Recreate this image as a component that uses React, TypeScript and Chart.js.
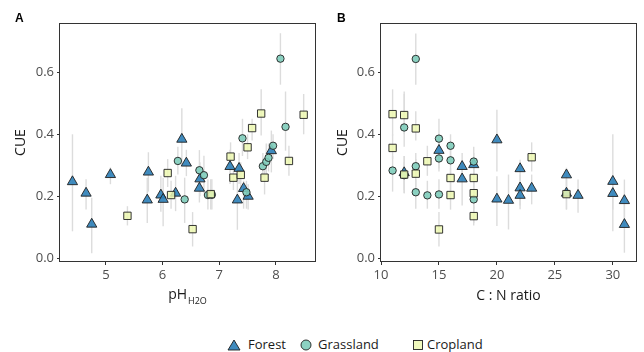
import React, { useEffect, useRef } from 'react';
import { Chart, registerables } from 'chart.js';

Chart.register(...registerables);

const FONT = '"Open Sans", "Noto Sans", sans-serif';

// ---------- Panel A: pH(H2O) ----------
const phForestX = [4.41, 4.65, 4.75, 5.08, 5.73, 5.75, 5.97, 6.01, 6.23, 6.34, 6.42, 6.65, 6.66, 7.19, 7.32, 7.35, 7.43, 7.51, 7.92];
const phForestY = [0.247, 0.21, 0.11, 0.27, 0.188, 0.278, 0.204, 0.19, 0.21, 0.384, 0.307, 0.226, 0.256, 0.296, 0.188, 0.29, 0.225, 0.2, 0.347];
const phForestLo = [0.087, 0.157, 0.016, 0.239, 0.114, 0.215, 0.15, 0.103, 0.152, 0.3, 0.265, 0.18, 0.2, 0.24, 0.092, 0.24, 0.16, 0.157, 0.277];
const phForestHi = [0.4, 0.255, 0.195, 0.293, 0.26, 0.342, 0.266, 0.26, 0.266, 0.484, 0.35, 0.27, 0.31, 0.35, 0.25, 0.34, 0.25, 0.239, 0.412];

const phGrassX = [6.27, 6.39, 6.65, 6.73, 6.8, 6.87, 7.41, 7.48, 7.77, 7.83, 7.87, 7.95, 8.08, 8.17];
const phGrassY = [0.314, 0.19, 0.284, 0.268, 0.204, 0.205, 0.387, 0.213, 0.297, 0.311, 0.324, 0.363, 0.644, 0.424];
const phGrassLo = [0.27, 0.114, 0.23, 0.21, 0.157, 0.157, 0.33, 0.16, 0.26, 0.27, 0.28, 0.32, 0.56, 0.347];
const phGrassHi = [0.36, 0.26, 0.349, 0.331, 0.255, 0.255, 0.45, 0.25, 0.34, 0.37, 0.37, 0.4, 0.726, 0.538];

const phCropX = [5.38, 6.09, 6.15, 6.53, 6.85, 7.2, 7.25, 7.38, 7.5, 7.58, 7.74, 7.8, 8.23, 8.49];
const phCropY = [0.137, 0.275, 0.204, 0.094, 0.207, 0.328, 0.26, 0.269, 0.358, 0.42, 0.467, 0.26, 0.314, 0.463];
const phCropLo = [0.106, 0.23, 0.16, 0.038, 0.157, 0.28, 0.22, 0.22, 0.32, 0.38, 0.396, 0.206, 0.266, 0.4];
const phCropHi = [0.168, 0.32, 0.25, 0.149, 0.255, 0.374, 0.3, 0.31, 0.4, 0.45, 0.545, 0.29, 0.363, 0.53];

// ---------- Panel B: C:N ratio ----------
const cnForestX = [12, 15, 17, 17, 18, 20, 20, 21, 22, 22, 22, 23, 26, 26, 27, 30, 30, 31, 31];
const cnForestY = [0.276, 0.348, 0.296, 0.256, 0.302, 0.382, 0.191, 0.187, 0.289, 0.227, 0.203, 0.226, 0.269, 0.21, 0.203, 0.248, 0.209, 0.186, 0.109];
const cnForestLo = [0.21, 0.29, 0.25, 0.17, 0.26, 0.28, 0.104, 0.093, 0.24, 0.17, 0.158, 0.174, 0.23, 0.158, 0.147, 0.087, 0.157, 0.13, 0.018];
const cnForestHi = [0.33, 0.4, 0.34, 0.3, 0.34, 0.479, 0.265, 0.27, 0.318, 0.27, 0.25, 0.27, 0.292, 0.26, 0.254, 0.4, 0.255, 0.254, 0.195];

const cnGrassX = [11, 12, 12, 13, 13, 13, 14, 15, 15, 15, 16, 16, 18, 18];
const cnGrassY = [0.283, 0.422, 0.268, 0.643, 0.297, 0.213, 0.203, 0.386, 0.322, 0.206, 0.363, 0.316, 0.312, 0.19];
const cnGrassLo = [0.215, 0.36, 0.21, 0.56, 0.26, 0.16, 0.16, 0.33, 0.28, 0.16, 0.32, 0.27, 0.27, 0.114];
const cnGrassHi = [0.33, 0.538, 0.33, 0.725, 0.34, 0.255, 0.25, 0.45, 0.37, 0.255, 0.4, 0.36, 0.36, 0.26];

const cnCropX = [11, 11, 12, 12, 13, 13, 14, 15, 16, 16, 18, 18, 18, 23, 26];
const cnCropY = [0.465, 0.356, 0.462, 0.27, 0.419, 0.273, 0.313, 0.093, 0.259, 0.204, 0.259, 0.21, 0.136, 0.326, 0.207];
const cnCropLo = [0.396, 0.32, 0.4, 0.22, 0.38, 0.23, 0.266, 0.038, 0.206, 0.157, 0.22, 0.16, 0.106, 0.28, 0.157];
const cnCropHi = [0.545, 0.4, 0.53, 0.31, 0.474, 0.32, 0.363, 0.149, 0.29, 0.255, 0.3, 0.25, 0.168, 0.374, 0.255];

// ---------- Axes / labels ----------
const phTicks = [5, 6, 7, 8];
const cnTicks = [10, 15, 20, 25, 30];
const cueTicks = [0, 0.2, 0.4, 0.6];
const groupNames = ['Forest', 'Grassland', 'Cropland'];
const yTitle = 'CUE';
const phTitleMain = 'pH';
const phTitleSub = 'H2O';
const cnTitle = 'C : N ratio';

const COLORS = ['rgba(44,127,184,0.9)', 'rgba(127,205,187,0.9)', 'rgba(237,248,177,0.85)'];
const STYLES = ['triangle', 'circle', 'rect'];
const RADII = [5.9, 3.7, 5.2];

type Group = { x: number[]; y: number[]; lo: number[]; hi: number[] };

const panelA: Group[] = [
  { x: phForestX, y: phForestY, lo: phForestLo, hi: phForestHi },
  { x: phGrassX, y: phGrassY, lo: phGrassLo, hi: phGrassHi },
  { x: phCropX, y: phCropY, lo: phCropLo, hi: phCropHi },
];
const panelB: Group[] = [
  { x: cnForestX, y: cnForestY, lo: cnForestLo, hi: cnForestHi },
  { x: cnGrassX, y: cnGrassY, lo: cnGrassLo, hi: cnGrassHi },
  { x: cnCropX, y: cnCropY, lo: cnCropLo, hi: cnCropHi },
];

type PanelSpec = {
  letter: string;
  groups: Group[];
  xMin: number;
  xMax: number;
  xTicks: number[];
  yAxisWidth: number;
  padRight: number;
  kind: 'ph' | 'cn';
};

const CANVAS_H = 312;
const PLOT_BOTTOM = 262;

function makeChart(canvas: HTMLCanvasElement, spec: PanelSpec) {
  const errorBars = {
    id: 'errorBars',
    beforeDatasetsDraw(chart: any) {
      const ctx = chart.ctx;
      const xs = chart.scales.x;
      const ys = chart.scales.y;
      const a = chart.chartArea;
      ctx.save();
      ctx.beginPath();
      ctx.rect(a.left, a.top, a.right - a.left, a.bottom - a.top);
      ctx.clip();
      ctx.strokeStyle = '#dcdcdc';
      ctx.lineWidth = 1.4;
      spec.groups.forEach((g) => {
        g.x.forEach((xv, i) => {
          const px = xs.getPixelForValue(xv);
          ctx.beginPath();
          ctx.moveTo(px, ys.getPixelForValue(g.lo[i]));
          ctx.lineTo(px, ys.getPixelForValue(g.hi[i]));
          ctx.stroke();
        });
      });
      ctx.restore();
    },
  };

  const decor = {
    id: 'decor',
    afterDraw(chart: any) {
      const ctx = chart.ctx;
      const a = chart.chartArea;
      ctx.save();
      ctx.strokeStyle = '#333333';
      ctx.lineWidth = 1;
      ctx.strokeRect(Math.round(a.left) - 0.5, Math.round(a.top) + 0.5, Math.round(a.right - a.left) + 1, Math.round(a.bottom - a.top) - 1);

      // panel letter
      ctx.fillStyle = '#000';
      ctx.font = `bold 12px "Liberation Sans", Arial, sans-serif`;
      ctx.textAlign = 'left';
      ctx.textBaseline = 'alphabetic';
      ctx.fillText(spec.letter, 15, 22);

      // y title
      ctx.font = `14px ${FONT}`;
      ctx.fillStyle = '#1a1a1a';
      ctx.save();
      ctx.translate(25, (a.top + a.bottom) / 2);
      ctx.rotate(-Math.PI / 2);
      ctx.textAlign = 'center';
      ctx.textBaseline = 'alphabetic';
      ctx.fillText(yTitle, 0, 0);
      ctx.restore();

      // x title
      const cx = (a.left + a.right) / 2;
      if (spec.kind === 'cn') {
        ctx.textAlign = 'center';
        ctx.font = `14px ${FONT}`;
        ctx.fillText(cnTitle, cx, 300);
      } else {
        ctx.font = `14px ${FONT}`;
        const w1 = ctx.measureText(phTitleMain).width;
        ctx.font = `9px ${FONT}`;
        const w2 = ctx.measureText(phTitleSub).width;
        const start = cx - (w1 + w2 + 1) / 2;
        ctx.textAlign = 'left';
        ctx.font = `14px ${FONT}`;
        ctx.fillText(phTitleMain, start, 299);
        ctx.font = `9px ${FONT}`;
        ctx.fillText(phTitleSub, start + w1 + 1, 304);
      }
      ctx.restore();
    },
  };

  return new Chart(canvas, {
    type: 'scatter',
    data: {
      datasets: spec.groups.map((g, gi) => ({
        label: groupNames[gi],
        data: g.x.map((xv, i) => ({ x: xv, y: g.y[i] })),
        pointStyle: STYLES[gi],
        pointRadius: RADII[gi],
        pointHoverRadius: RADII[gi],
        backgroundColor: COLORS[gi],
        borderColor: '#1f1f1f',
        borderWidth: 0.9,
        order: 3 - gi,
      })),
    },
    options: {
      animation: false,
      responsive: false,
      devicePixelRatio: 1,
      events: [],
      layout: { padding: { top: 23, right: spec.padRight, left: 0, bottom: 0 } },
      plugins: { legend: { display: false }, tooltip: { enabled: false } },
      scales: {
        x: {
          type: 'linear',
          min: spec.xMin,
          max: spec.xMax,
          afterFit: (s: any) => {
            s.height = CANVAS_H - PLOT_BOTTOM;
          },
          afterBuildTicks: (s: any) => {
            s.ticks = spec.xTicks.map((v) => ({ value: v }));
          },
          grid: { drawOnChartArea: false, drawTicks: true, tickLength: 3, color: '#333333', lineWidth: 1 },
          border: { display: false },
          ticks: {
            color: '#4d4d4d',
            font: { family: FONT, size: 13 },
            padding: 2,
            maxRotation: 0,
            autoSkip: false,
            callback: (v: any) => String(v),
          },
        },
        y: {
          type: 'linear',
          min: -0.012,
          max: 0.759,
          afterFit: (s: any) => {
            s.width = spec.yAxisWidth;
          },
          afterBuildTicks: (s: any) => {
            s.ticks = cueTicks.map((v) => ({ value: v }));
          },
          grid: { drawOnChartArea: false, drawTicks: true, tickLength: 3, color: '#333333', lineWidth: 1 },
          border: { display: false },
          ticks: {
            color: '#4d4d4d',
            font: { family: FONT, size: 13 },
            padding: 3,
            autoSkip: false,
            callback: (v: any) => Number(v).toFixed(1),
          },
        },
      },
    },
    plugins: [errorBars, decor],
  } as any);
}

function Panel({ spec, left }: { spec: PanelSpec; left: number }) {
  const ref = useRef<HTMLCanvasElement | null>(null);
  useEffect(() => {
    if (!ref.current) return;
    const chart = makeChart(ref.current, spec);
    return () => chart.destroy();
  }, [spec]);
  return (
    <canvas
      ref={ref}
      width={322}
      height={CANVAS_H}
      style={{ position: 'absolute', left, top: 0, width: 322, height: CANVAS_H }}
    />
  );
}

const specA: PanelSpec = { letter: 'A', groups: panelA, xMin: 4.19, xMax: 8.69, xTicks: phTicks, yAxisWidth: 60, padRight: 7, kind: 'ph' };
const specB: PanelSpec = { letter: 'B', groups: panelB, xMin: 10, xMax: 32, xTicks: cnTicks, yAxisWidth: 59, padRight: 8, kind: 'cn' };

function LegendShape({ i }: { i: number }) {
  const fill = COLORS[i];
  if (i === 0)
    return (
      <svg width="14" height="12" style={{ display: 'block' }}>
        <polygon points="7,1 13,11 1,11" fill={fill} stroke="#1f1f1f" strokeWidth="0.9" />
      </svg>
    );
  if (i === 1)
    return (
      <svg width="14" height="12" style={{ display: 'block' }}>
        <circle cx="7" cy="6" r="5" fill={fill} stroke="#1f1f1f" strokeWidth="0.9" />
      </svg>
    );
  return (
    <svg width="14" height="12" style={{ display: 'block' }}>
      <rect x="2.5" y="1.5" width="9" height="9" fill={fill} stroke="#1f1f1f" strokeWidth="0.9" />
    </svg>
  );
}

const legendShapeX = [234, 305.5, 417.5];
const legendTextX = [248, 318, 427];

export default function App() {
  return (
    <div style={{ position: 'absolute', left: 0, top: 0, width: 644, height: 352, background: '#fff', overflow: 'hidden' }}>
      <Panel spec={specA} left={0} />
      <Panel spec={specB} left={322} />
      {groupNames.map((n, i) => (
        <React.Fragment key={n}>
          <div style={{ position: 'absolute', left: legendShapeX[i] - 7, top: 339 }}>
            <LegendShape i={i} />
          </div>
          <div
            style={{
              position: 'absolute',
              left: legendTextX[i],
              top: 336,
              fontFamily: FONT,
              fontSize: 13,
              lineHeight: '17px',
              color: '#1a1a1a',
              whiteSpace: 'nowrap',
            }}
          >
            {n}
          </div>
        </React.Fragment>
      ))}
    </div>
  );
}
